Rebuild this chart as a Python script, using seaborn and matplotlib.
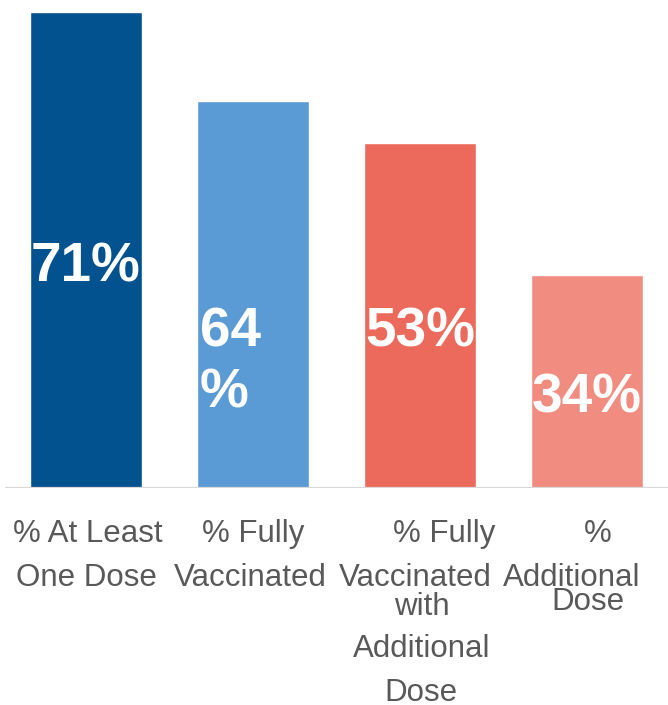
import pandas as pd
import matplotlib
matplotlib.use("Agg")
import matplotlib.pyplot as plt
import seaborn as sns

# Data (bar heights on the chart's own scale, labels as printed)
categories = [
    "% At Least One Dose",
    "% Fully Vaccinated",
    "% Fully Vaccinated with Additional Dose",
    "% Additional Dose",
]
category_lines = [
    ["% At Least", "One Dose"],
    ["% Fully", "Vaccinated"],
    ["% Fully", "Vaccinated", "with", "Additional", "Dose"],
    ["%", "Additional", "Dose"],
]
bar_heights = [71.0, 57.7, 51.5, 31.8]
value_labels = ["71%", "64\n%", "53%", "34%"]
bar_colors = ["#02528F", "#5B9BD5", "#EC6A5C", "#F18D80"]

df = pd.DataFrame({"Category": categories, "Value": bar_heights})

sns.set_style("white")
plt.rcParams["font.family"] = ["Liberation Sans", "DejaVu Sans"]

fig = plt.figure(figsize=(6.68, 7.05), dpi=100)
ax = fig.add_axes([5 / 668, 217 / 705, 663 / 668, 488 / 705])

sns.barplot(data=df, x="Category", y="Value", hue="Category", palette=bar_colors,
            width=0.67, legend=False, saturation=1, ax=ax)

ax.set_xlim(-0.485, 3.485)
ax.set_ylim(0, 71 * 488 / 476)
for s in ax.spines.values():
    s.set_visible(False)
ax.set_xticks([])
ax.set_yticks([])
ax.set_xlabel("")
ax.set_ylabel("")
ax.axhline(0, color="#D9D9D9", lw=1.6, zorder=5)

# value labels inside the bars
for i, (h, lab) in enumerate(zip(bar_heights, value_labels)):
    if "\n" in lab:
        ax.annotate(lab, xy=(i - 0.335, h / 2), xytext=(3, -113), textcoords="offset pixels",
                    ha="left", va="baseline", color="white", fontsize=39.5,
                    fontweight="bold", linespacing=1.22)
    else:
        ax.annotate(lab, xy=(i, h / 2), xytext=(0, -31), textcoords="offset pixels",
                    ha="center", va="baseline", color="white", fontsize=39.5,
                    fontweight="bold")

# category labels, line by line, like the original wrapping
line_drops = [[54, 98], [54, 98], [54, 98, 127, 169, 213], [54, 98, 122]]
line_shifts = [[2, 0], [0, -3], [24, -5, 2, 2, 1], [11, -15, 1]]
trans = ax.get_xaxis_transform()
for i, lines in enumerate(category_lines):
    for line, drop, shift in zip(lines, line_drops[i], line_shifts[i]):
        ax.annotate(line, xy=(i, 0), xycoords=trans, xytext=(shift, -drop),
                    textcoords="offset pixels", ha="center", va="baseline",
                    color="#595959", fontsize=22.5, annotation_clip=False)

fig.savefig("out.png", dpi=100)
